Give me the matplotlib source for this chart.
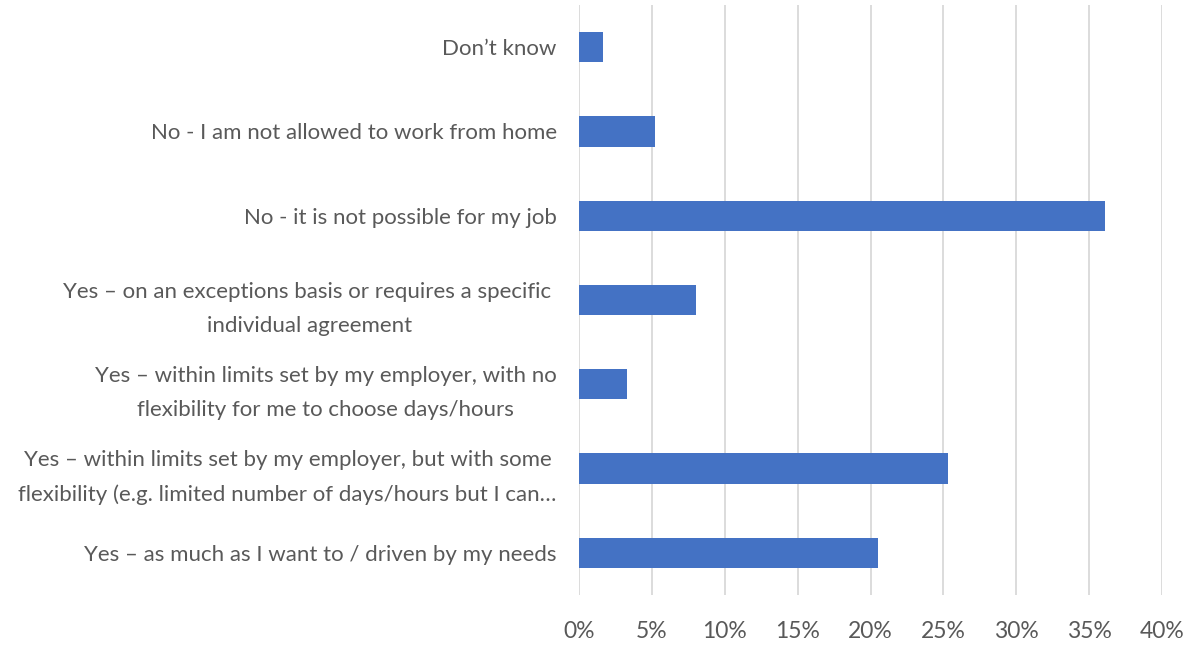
import matplotlib.pyplot as plt
from matplotlib.ticker import PercentFormatter

plt.rcParams['font.family'] = ['Lato', 'DejaVu Sans']

# responses, listed bottom to top as drawn
answers = [
    "Yes \u2013 as much as I want to / driven by my needs",
    "Yes \u2013 within limits set by my employer, but with some\n"
    "flexibility (e.g. limited number of days/hours but I can\u2026",
    "Yes \u2013 within limits set by my employer, with no\n"
    "flexibility for me to choose days/hours",
    "Yes \u2013 on an exceptions basis or requires a specific \n"
    "individual agreement",
    "No - it is not possible for my job",
    "No - I am not allowed to work from home",
    "Don\u2019t know",
]
shares = [20.5, 25.35, 3.3, 8.0, 36.1, 5.2, 1.65]  # percent of respondents
x_ticks = [0, 5, 10, 15, 20, 25, 30, 35, 40]

fig = plt.figure(figsize=(12.01, 6.45), dpi=100)
ax = fig.add_axes([579 / 1201, 50 / 645, 583 / 1201, 590 / 645])

ax.barh(range(len(answers)), shares, height=0.36, color='#4472c4', zorder=3)

ax.set_xlim(0, 40)
ax.set_ylim(-0.5, len(answers) - 0.5)
ax.set_xticks(x_ticks)
ax.xaxis.set_major_formatter(PercentFormatter(decimals=0))
ax.set_yticks(range(len(answers)))
ax.set_yticklabels(answers, multialignment='center', linespacing=1.85)

ax.grid(axis='x', color='#d9d9d9', linewidth=1.3, zorder=0)
for side in ax.spines.values():
    side.set_visible(False)
ax.tick_params(axis='y', length=0, pad=16, labelsize=16, labelcolor='#595959')
ax.tick_params(axis='x', length=0, pad=19, labelsize=16.5, labelcolor='#595959')

fig.savefig('out.png', dpi=100)
